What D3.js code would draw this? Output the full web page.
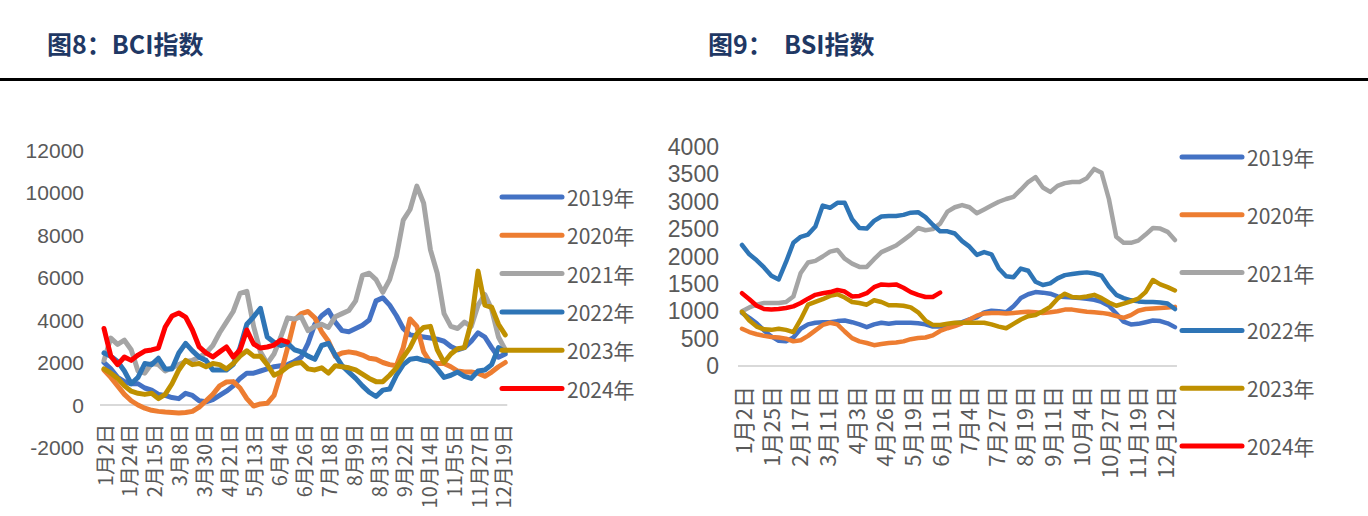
<!DOCTYPE html>
<html><head><meta charset="utf-8">
<script src="https://cdn.jsdelivr.net/npm/d3@7"></script>
<style>
body{margin:0;background:#fff}
svg{display:block}
text{font-family:"Noto Sans CJK SC","DejaVu Sans",sans-serif}
</style>
</head><body>
<svg id="c" width="1368" height="516"></svg>
<script>
// ---------- DATA ----------
const STEP = 6; // days between samples
const seriesNames = ["2019年","2020年","2021年","2022年","2023年","2024年"];
const seriesColors = ["#4472C4","#ED7D31","#A5A5A5","#2E75B6","#BF9000","#FF0000"];

const bciLabels = ["1月2日","1月24日","2月15日","3月8日","3月30日","4月21日","5月13日","6月4日","6月26日","7月18日","8月9日","8月31日","9月22日","10月14日","11月5日","11月27日","12月19日"];
const bciTicks = [-2000,0,2000,4000,6000,8000,10000,12000];
const bci2019 = [2000,1700,1300,1100,1000,1000,800,700,500,450,350,300,550,450,200,150,250,450,650,900,1250,1500,1500,1600,1700,1800,1850,1900,2050,2250,2900,3800,4200,4450,3900,3500,3450,3600,3750,4000,4900,5050,4700,4200,3600,3300,3250,3200,3150,3100,3000,2750,2600,2700,3000,3400,3200,2700,2250,2400];
const bci2020 = [1650,1300,900,500,200,0,-150,-250,-300,-330,-350,-380,-350,-300,-100,200,500,900,1080,1100,800,300,-50,50,80,450,1500,2700,4000,4300,4400,4100,3450,3000,2300,2450,2500,2450,2350,2200,2150,2000,1900,1850,2700,4050,3700,2500,2000,1950,1950,1800,1600,1550,1550,1500,1350,1550,1800,2000];
const bci2021 = [2100,3150,2850,3050,2600,1600,1500,1950,1900,1600,1750,1900,2050,2100,2250,2450,2800,3400,3900,4400,5250,5350,3700,2500,1950,2400,3200,4100,4050,4150,3500,3700,3800,3650,4150,4300,4450,4900,6100,6200,5900,5300,5900,7000,8700,9200,10300,9500,7300,6200,4300,3700,3600,3900,3700,4700,5200,4500,3200,2600];
const bci2022 = [2450,2300,2050,1600,1000,1300,1950,1900,2200,1700,1700,2450,2900,2550,2250,2100,1650,1650,1650,1900,2700,3800,4150,4550,3200,2950,2800,2900,2600,2500,2300,2150,2800,2900,2350,1850,1550,1250,900,600,400,700,750,1400,1900,2150,2200,2100,2050,1700,1300,1400,1550,1350,1250,1600,1650,1900,2700,2500];
const bci2023 = [1700,1500,1250,900,650,550,500,550,300,500,1000,1650,2100,1900,1950,1800,1950,1900,1700,1950,2300,2550,2300,2300,1900,1400,1550,1800,1950,2000,1700,1650,1750,1500,1850,1800,1750,1650,1450,1250,1100,1100,1400,1750,2250,2700,3350,3650,3700,2600,2000,2400,2650,2700,3900,6300,4700,4600,3800,3300];
const bci2024 = [3600,2300,1900,2260,2100,2350,2540,2590,2680,3670,4190,4330,4140,3530,2730,2450,2260,2500,2730,2260,2590,3530,2870,2680,2730,2820,3060,2960];

const bsiLabels = ["1月2日","1月25日","2月17日","3月11日","4月3日","4月26日","5月19日","6月11日","7月4日","7月27日","8月19日","9月11日","10月4日","10月27日","11月19日","12月12日"];
const bsiTicks = [0,500,1000,1500,2000,2500,3000,3500,4000];
const bsi2019 = [970,880,780,650,540,460,450,520,680,760,790,800,800,820,830,800,760,710,760,790,770,790,790,790,780,760,720,720,750,780,800,850,890,980,1010,1000,980,1090,1240,1310,1350,1340,1320,1270,1260,1250,1240,1230,1210,1170,1100,960,810,760,770,800,830,820,780,710];
const bsi2020 = [680,620,580,550,530,520,500,450,470,550,650,750,790,760,630,510,450,420,380,400,420,430,450,490,510,520,560,640,690,730,780,850,920,960,970,970,960,970,980,990,980,970,980,1000,1030,1030,1010,990,980,970,950,910,880,930,1010,1040,1050,1060,1070,1080];
const bsi2021 = [1000,1070,1120,1150,1150,1150,1170,1270,1700,1890,1920,2000,2090,2120,1960,1870,1810,1810,1950,2080,2140,2200,2300,2400,2520,2480,2500,2600,2820,2900,2940,2900,2790,2860,2930,3000,3050,3090,3220,3360,3450,3260,3180,3290,3340,3360,3360,3430,3600,3530,3050,2360,2250,2250,2290,2400,2520,2510,2450,2300];
const bsi2022 = [2210,2040,1930,1800,1650,1580,1900,2250,2360,2400,2550,2930,2890,2980,2980,2680,2520,2510,2650,2730,2740,2740,2760,2800,2810,2720,2580,2460,2460,2420,2280,2180,2030,2080,2040,1780,1640,1620,1780,1740,1540,1480,1510,1600,1660,1680,1700,1710,1690,1650,1450,1300,1240,1200,1180,1170,1170,1160,1140,1040];
const bsi2023 = [990,830,720,670,660,680,660,620,850,1120,1170,1220,1280,1310,1250,1170,1150,1120,1200,1170,1110,1110,1100,1070,980,830,750,750,770,790,790,790,790,790,760,720,690,770,850,910,930,1000,1080,1230,1320,1260,1250,1270,1300,1240,1160,1100,1140,1180,1230,1350,1570,1490,1440,1380];
const bsi2024 = [1330,1220,1100,1040,1030,1040,1060,1090,1150,1230,1300,1330,1350,1390,1360,1270,1280,1330,1440,1490,1480,1490,1430,1350,1300,1260,1260,1340];

// ---------- DRAW ----------
const svg = d3.select("#c");
const TXT = "#595959";

svg.append("text").attr("x",47).attr("y",54).attr("font-size",25).attr("font-weight","bold")
  .attr("fill","#1F3864").text("图8：BCI指数");
svg.append("text").attr("x",708).attr("y",54).attr("font-size",25).attr("font-weight","bold")
  .attr("fill","#1F3864").style("white-space","pre").text("图9：  BSI指数");
svg.append("rect").attr("x",0).attr("y",78).attr("width",1368).attr("height",3).attr("fill","#000");

function drawChart(cfg){
  const g = svg.append("g");
  const x = d3.scaleLinear().domain([0, 354]).range([cfg.x0, cfg.x1]);
  const y = d3.scaleLinear().domain(cfg.yDomain).range(cfg.yRange);

  // y tick labels
  g.selectAll(".yt").data(cfg.yTicks).join("text")
    .attr("x", cfg.yLabelX).attr("y", d => y(d)).attr("text-anchor","end")
    .attr("dominant-baseline","central").attr("font-size", cfg.yFont).attr("fill", TXT)
    .style("font-family", "'Liberation Sans', Arial, sans-serif")
    .text(d => d);

  // zero line
  g.append("line").attr("x1", cfg.x0 - 4).attr("x2", cfg.x1 + 2)
    .attr("y1", y(0)).attr("y2", y(0)).attr("stroke","#D9D9D9").attr("stroke-width",2);

  // x labels (rotated)
  g.selectAll(".xt").data(cfg.labels).join("text")
    .attr("transform", (d,i) => `translate(${x(i*cfg.labelStep)},${cfg.labelTop}) rotate(-90)`)
    .attr("text-anchor","end").attr("dominant-baseline","central")
    .attr("font-size", cfg.xFont).attr("fill", TXT).text(d => d);

  // series
  const line = d3.line().x((d,i) => x(i*STEP)).y(d => y(d));
  cfg.series.forEach((s,i) => {
    g.append("path").datum(s).attr("d", line).attr("fill","none")
      .attr("stroke", seriesColors[i]).attr("stroke-width", cfg.lw)
      .attr("stroke-linejoin","round").attr("stroke-linecap","round");
  });

  // legend
  seriesNames.forEach((n,i) => {
    const ly = cfg.legY0 + i*cfg.legDy;
    g.append("line").attr("x1", cfg.legX).attr("x2", cfg.legX + 60).attr("y1", ly).attr("y2", ly)
      .attr("stroke", seriesColors[i]).attr("stroke-width", 5).attr("stroke-linecap","round");
    g.append("text").attr("x", cfg.legX + 65).attr("y", ly).attr("dominant-baseline","central")
      .attr("font-size", 21).attr("fill", TXT).text(n);
  });
}

drawChart({
  x0: 104, x1: 104 + 354*1.1335,
  yDomain: [-2000, 12000], yRange: [447.5, 150], yTicks: bciTicks,
  yLabelX: 84, yFont: 21,
  labels: bciLabels, labelStep: 22, labelTop: 424, xFont: 20,
  series: [bci2019, bci2020, bci2021, bci2022, bci2023, bci2024], lw: 5,
  legX: 502, legY0: 197, legDy: 38.3
});

drawChart({
  x0: 742, x1: 742 + 354*1.223,
  yDomain: [0, 4000], yRange: [366, 147], yTicks: bsiTicks,
  yLabelX: 719, yFont: 23,
  labels: bsiLabels, labelStep: 23, labelTop: 386, xFont: 22,
  series: [bsi2019, bsi2020, bsi2021, bsi2022, bsi2023, bsi2024], lw: 4.5,
  legX: 1182, legY0: 157, legDy: 57.8
});
</script>
</body></html>
